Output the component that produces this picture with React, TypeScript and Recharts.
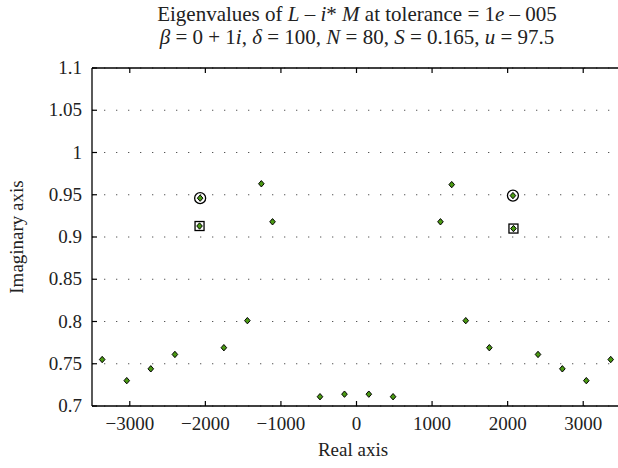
import { ScatterChart, Scatter, XAxis, YAxis, CartesianGrid } from 'recharts';

// eigenvalues (real part, imaginary part)
const eigReal = [-3365, -3040, -2722, -2403, -2077, -2069, -1755, -1444, -1259, -1111, -483, -159, 163, 484, 1111, 1260, 1446, 1758, 2070, 2077, 2402, 2724, 3041, 3364];
const eigImag = [0.755, 0.730, 0.744, 0.761, 0.913, 0.946, 0.769, 0.801, 0.963, 0.918, 0.711, 0.714, 0.714, 0.711, 0.918, 0.962, 0.801, 0.769, 0.949, 0.910, 0.761, 0.744, 0.730, 0.755];

const circleReal = [-2069, 2070];
const circleImag = [0.946, 0.949];
const squareReal = [-2077, 2077];
const squareImag = [0.913, 0.910];

const xTicks = [-3000, -2000, -1000, 0, 1000, 2000, 3000];
const yTicks = [0.7, 0.75, 0.8, 0.85, 0.9, 0.95, 1, 1.05, 1.1];

const toPoints = (xs: number[], ys: number[]) => xs.map((x, i) => ({ x, y: ys[i] }));
const eigData = toPoints(eigReal, eigImag);
const circleData = toPoints(circleReal, circleImag);
const squareData = toPoints(squareReal, squareImag);

const FONT = '"Liberation Serif", "DejaVu Serif", serif';
const fmt = (v: number) => String(v).replace('-', '\u2212');

const BottomTick = (props: any) => {
  const { x, y, payload } = props;
  return (
    <g>
      <line x1={x} y1={y} x2={x} y2={y - 5} stroke="#000" strokeWidth={1.2} />
      <text x={x} y={y + 24} textAnchor="middle" fontFamily={FONT} fontSize={19} fill="#222">
        {fmt(payload.value)}
      </text>
    </g>
  );
};

const TopTick = (props: any) => {
  const { x, y } = props;
  return <line x1={x} y1={y} x2={x} y2={y + 5} stroke="#000" strokeWidth={1.2} />;
};

const LeftTick = (props: any) => {
  const { x, y, payload } = props;
  return (
    <g>
      <line x1={x} y1={y} x2={x + 5} y2={y} stroke="#000" strokeWidth={1.2} />
      <text x={x - 10} y={y + 6} textAnchor="end" fontFamily={FONT} fontSize={19} fill="#222">
        {fmt(payload.value)}
      </text>
    </g>
  );
};

const Diamond = (props: any) => {
  const { cx, cy } = props;
  return (
    <polygon
      points={`${cx},${cy - 3.2} ${cx + 2.8},${cy} ${cx},${cy + 3.2} ${cx - 2.8},${cy}`}
      fill="#4a9a12"
      stroke="#000"
      strokeWidth={1}
    />
  );
};

const Ring = (props: any) => {
  const { cx, cy } = props;
  return <circle cx={cx} cy={cy} r={5.5} fill="none" stroke="#000" strokeWidth={1.3} />;
};

const Box = (props: any) => {
  const { cx, cy } = props;
  return <rect x={cx - 4.5} y={cy - 4.5} width={9} height={9} fill="none" stroke="#000" strokeWidth={1.3} />;
};

export default function App() {
  return (
    <div style={{ position: 'fixed', left: 0, top: 0, width: 618, height: 468, overflow: 'hidden', background: '#fff', fontFamily: FONT, color: '#222' }}>
      <div style={{ position: 'absolute', left: 0, width: 714, top: 3, textAlign: 'center', fontSize: 21, lineHeight: '23px' }}>
        <div>
          Eigenvalues of <i>L</i> {'\u2013'} <i>i</i>* <i>M</i> at tolerance = 1<i>e</i> {'\u2013'} 005
        </div>
        <div>
          <i>{'\u03b2'}</i> = 0 + 1<i>i</i>, <i>{'\u03b4'}</i> = 100, <i>N</i> = 80, <i>S</i> = 0.165, <i>u</i> = 97.5
        </div>
      </div>
      <div style={{ position: 'absolute', left: 0, width: 706, top: 439, textAlign: 'center', fontSize: 19 }}>Real axis</div>
      <div
        style={{
          position: 'absolute',
          left: 17,
          top: 237,
          fontSize: 19,
          whiteSpace: 'nowrap',
          transform: 'translate(-50%, -50%) rotate(-90deg)',
        }}
      >
        Imaginary axis
      </div>
      <ScatterChart width={630} height={468} margin={{ top: 64, right: 9, bottom: 0, left: 0 }}>
        <CartesianGrid stroke="#555" strokeDasharray="1.3 10.7" horizontalValues={yTicks} verticalValues={xTicks} />
        <XAxis
          xAxisId="top"
          orientation="top"
          type="number"
          dataKey="x"
          domain={[-3500, 3500]}
          ticks={xTicks}
          height={4}
          tickSize={0}
          tickMargin={0}
          tickLine={false}
          tick={<TopTick />}
          axisLine={{ stroke: '#000', strokeWidth: 1.3 }}
          allowDataOverflow
        />
        <XAxis
          xAxisId="bottom"
          type="number"
          dataKey="x"
          domain={[-3500, 3500]}
          ticks={xTicks}
          height={62}
          tickSize={0}
          tickMargin={0}
          tickLine={false}
          tick={<BottomTick />}
          axisLine={{ stroke: '#000', strokeWidth: 1.3 }}
          allowDataOverflow
        />
        <YAxis
          type="number"
          dataKey="y"
          domain={[0.7, 1.1]}
          ticks={yTicks}
          width={92}
          tickSize={0}
          tickMargin={0}
          tickLine={false}
          tick={<LeftTick />}
          axisLine={{ stroke: '#000', strokeWidth: 1.3 }}
          allowDataOverflow
        />
        <Scatter xAxisId="top" data={circleData} shape={<Ring />} isAnimationActive={false} />
        <Scatter xAxisId="top" data={squareData} shape={<Box />} isAnimationActive={false} />
        <Scatter xAxisId="bottom" data={eigData} shape={<Diamond />} isAnimationActive={false} />
      </ScatterChart>
    </div>
  );
}
